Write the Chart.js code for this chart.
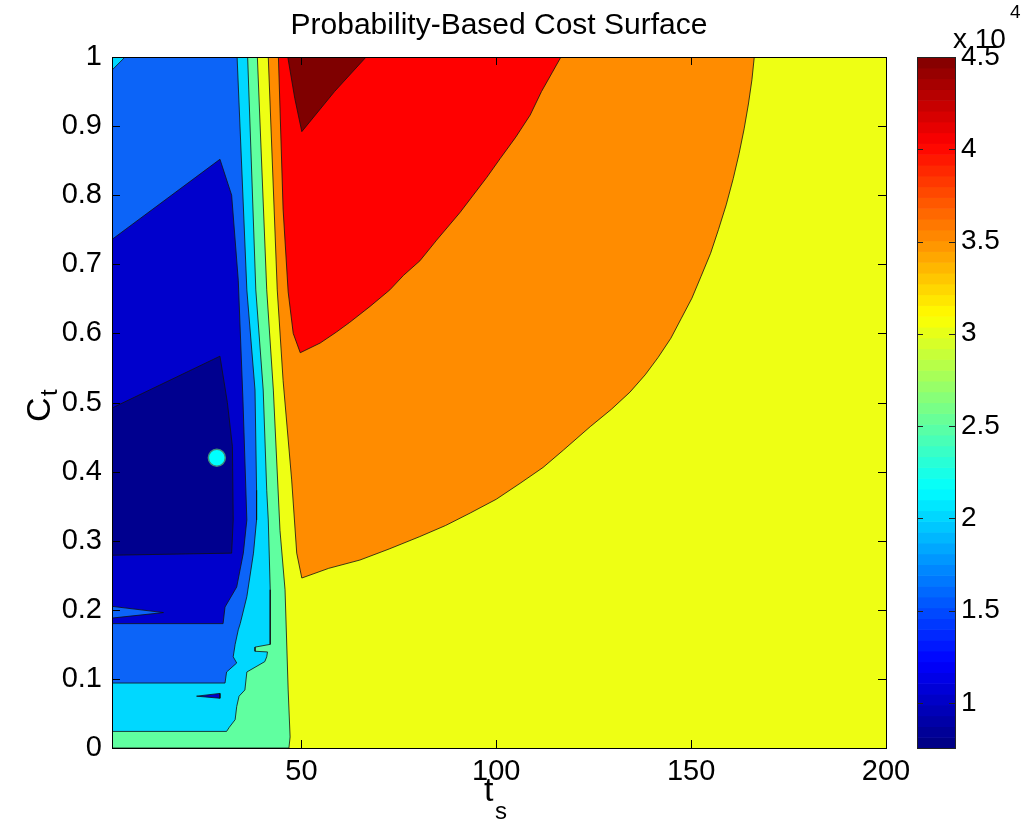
<!DOCTYPE html>
<html>
<head>
<meta charset="utf-8">
<title>Probability-Based Cost Surface</title>
<script src="https://cdn.jsdelivr.net/npm/chart.js@4.4.0/dist/chart.umd.min.js"></script>
<style>
    html, body { margin: 0; padding: 0; background: #fff; }
    #wrap { position: relative; width: 1022px; height: 829px; }
    #main { position: absolute; left: 0; top: 0; }
    #cbar { position: absolute; left: 900px; top: 0; }
</style>
</head>
<body>
<div id="wrap">
    <canvas id="main" width="1022" height="829"></canvas>
    <canvas id="cbar" width="122" height="829"></canvas>
</div>
<script>
// tick values
const xTicks = [50, 100, 150, 200];
const yTicks = [0, 0.1, 0.2, 0.3, 0.4, 0.5, 0.6, 0.7, 0.8, 0.9, 1];
const cbarTicks = [1, 1.5, 2, 2.5, 3, 3.5, 4, 4.5];   // x 10^4
const cbarMin = 0.755;
const cbarMax = 4.5;

// contour regions, [t_s, C_t] outlines
const plotFrame = [[1.4, 0], [200, 0], [200, 1], [1.4, 1], [1.4, 0]];
const orangeRegion = [[41.5, 1], [43.8, 0.663], [45.3, 0.532], [47.5, 0.388], [48.8, 0.282], [50.1, 0.246],
    [57.0, 0.260], [65.0, 0.272], [72.5, 0.288], [80.4, 0.306], [87.0, 0.322], [93.3, 0.340],
    [100.0, 0.360], [106.1, 0.383], [112.0, 0.406], [117.2, 0.431], [124.1, 0.465], [129.5, 0.490],
    [134.3, 0.515], [138.2, 0.540], [141.5, 0.565], [144.8, 0.593], [147.5, 0.622], [150.2, 0.651],
    [152.5, 0.682], [155.0, 0.716], [157.0, 0.750], [159.0, 0.786], [160.8, 0.824], [162.3, 0.860],
    [163.6, 0.896], [164.7, 0.932], [165.6, 0.967], [166.2, 1], [41.5, 1]];
const redRegion = [[44.1, 1], [45.3, 0.78], [46.6, 0.66], [47.9, 0.60], [49.7, 0.572],
    [54.8, 0.586], [59.0, 0.602], [62.4, 0.616], [67.6, 0.639], [72.7, 0.663], [76.2, 0.684],
    [80.4, 0.705], [84.7, 0.735], [90.7, 0.775], [97.6, 0.826], [101.0, 0.853], [105.0, 0.884],
    [108.7, 0.916], [111.6, 0.950], [114.4, 0.978], [116.6, 1], [44.1, 1]];
const darkRedRegion = [[46.5, 1], [48.3, 0.94], [50.1, 0.892], [58.5, 0.95], [66.6, 1], [46.5, 1]];
const aquaRegion = [[1.4, 1], [38.7, 1], [41.1, 0.663], [42.8, 0.518], [44.5, 0.315], [45.8, 0.229],
    [46.6, 0.084], [47.1, 0.016], [46.8, 0], [1.4, 0], [1.4, 1]];
const cyanRegion = [[1.4, 1], [36.2, 1], [38.3, 0.663], [40.2, 0.518], [41.1, 0.373], [41.5, 0.330],
    [42.0, 0.229], [42.0, 0.150], [38.1, 0.146], [38.1, 0.140], [41.3, 0.139], [41.1, 0.132],
    [40.6, 0.125], [36.0, 0.110], [35.5, 0.084], [34.0, 0.075], [33.4, 0.060], [33.0, 0.041],
    [31.5, 0.030], [30.8, 0.024], [1.4, 0.024], [1.4, 1]];
const blueRegion = [[1.4, 1], [33.5, 1], [36.0, 0.663], [38.1, 0.518], [38.5, 0.373], [38.5, 0.330],
    [37.7, 0.282], [36.0, 0.219], [34.3, 0.180], [33.8, 0.171], [33.0, 0.150], [32.5, 0.132],
    [33.4, 0.123], [30.8, 0.110], [30.4, 0.094], [1.4, 0.094], [1.4, 1]];
const cyanCorner = [[1.4, 1], [4.75, 1], [1.4, 0.981], [1.4, 1]];
const darkBlueRegion = [[1.4, 0.736], [29.1, 0.852], [32.1, 0.800], [33.8, 0.677], [35.0, 0.504],
    [36.0, 0.330], [35.1, 0.282], [33.4, 0.233], [30.4, 0.204], [29.9, 0.180], [1.4, 0.180], [1.4, 0.736]];
const blueWedge = [[1.4, 0.205], [14.6, 0.196], [1.4, 0.188], [1.4, 0.205]];
const darkBlueSliver = [[23.1, 0.075], [29.1, 0.079], [29.1, 0.072], [23.1, 0.075]];
const navyRegion = [[1.4, 0.492], [29.1, 0.567], [31.0, 0.50], [32.3, 0.436], [32.5, 0.330],
    [32.1, 0.282], [1.4, 0.279], [1.4, 0.492]];
const optimum = [[28.3, 0.42]];

const FONT = "'Liberation Sans', Arial, sans-serif";

// bottom to top drawing order
const layers = [
    { pts: plotFrame, color: '#EEFF14', line: false },
    { pts: orangeRegion, color: '#FF8C00' },
    { pts: redRegion, color: '#FF0000' },
    { pts: darkRedRegion, color: '#7F0000' },
    { pts: aquaRegion, color: '#60FFA0' },
    { pts: cyanRegion, color: '#00D8FF' },
    { pts: blueRegion, color: '#0C64F8' },
    { pts: cyanCorner, color: '#00D8FF' },
    { pts: darkBlueRegion, color: '#0000CC' },
    { pts: blueWedge, color: '#0C64F8' },
    { pts: darkBlueSliver, color: '#0000CC' },
    { pts: navyRegion, color: '#00008F' }
];

const toXY = arr => arr.map(p => ({ x: p[0], y: p[1] }));

const datasets = layers.map((l, i) => ({
    data: toXY(l.pts),
    areaColor: l.color,
    showLine: true,
    borderColor: l.line === false ? 'rgba(0,0,0,0)' : '#111',
    borderWidth: 0.8,
    pointRadius: 0,
    order: layers.length + 1 - i
}));
datasets.push({
    data: toXY(optimum),
    showLine: false,
    pointRadius: 8.5,
    backgroundColor: '#00FFFF',
    borderColor: '#3C8C7C',
    borderWidth: 1.5,
    order: 0
});

// fill each closed outline before its contour line is stroked
const polyFill = {
    id: 'polyFill',
    beforeDatasetDraw(chart, args) {
        const ds = chart.data.datasets[args.index];
        if (!ds.areaColor) return;
        const ctx = chart.ctx, a = chart.chartArea;
        ctx.save();
        ctx.beginPath();
        ctx.rect(a.left, a.top, a.right - a.left, a.bottom - a.top);
        ctx.clip();
        ctx.beginPath();
        args.meta.data.forEach((p, i) => i ? ctx.lineTo(p.x, p.y) : ctx.moveTo(p.x, p.y));
        ctx.closePath();
        ctx.fillStyle = ds.areaColor;
        ctx.fill();
        ctx.restore();
    }
};

// matlab style box, inward ticks and axis labels with subscripts
const frame = {
    id: 'frame',
    afterDraw(chart) {
        const ctx = chart.ctx, a = chart.chartArea;
        const xs = chart.scales.x, ys = chart.scales.y;
        ctx.save();
        ctx.strokeStyle = '#000';
        ctx.lineWidth = 1;
        ctx.beginPath();
        xTicks.forEach(v => {
            const px = Math.round(xs.getPixelForValue(v)) + 0.5;
            ctx.moveTo(px, a.bottom); ctx.lineTo(px, a.bottom - 8);
            ctx.moveTo(px, a.top); ctx.lineTo(px, a.top + 8);
        });
        yTicks.forEach(v => {
            const py = Math.round(ys.getPixelForValue(v)) + 0.5;
            ctx.moveTo(a.left, py); ctx.lineTo(a.left + 8, py);
            ctx.moveTo(a.right, py); ctx.lineTo(a.right - 8, py);
        });
        ctx.stroke();
        ctx.strokeRect(Math.round(a.left) + 0.5, Math.round(a.top) + 0.5,
            Math.round(a.right - a.left), Math.round(a.bottom - a.top));

        ctx.fillStyle = '#000';
        ctx.textBaseline = 'alphabetic';
        ctx.textAlign = 'left';
        ctx.font = '34px ' + FONT;
        ctx.fillText('t', 484, 801);
        ctx.font = '24px ' + FONT;
        ctx.fillText('s', 495, 819);

        ctx.translate(50, 422);
        ctx.rotate(-Math.PI / 2);
        ctx.font = '34px ' + FONT;
        ctx.fillText('C', 0, 0);
        ctx.font = '24px ' + FONT;
        ctx.fillText('t', 26, 7);
        ctx.restore();
    }
};

new Chart(document.getElementById('main'), {
    type: 'scatter',
    data: { datasets: datasets },
    options: {
        responsive: false,
        animation: false,
        events: [],
        layout: { padding: { left: 0, right: 136, top: 0, bottom: 0 } },
        plugins: {
            legend: { display: false },
            tooltip: { enabled: false },
            title: {
                display: true,
                text: 'Probability-Based Cost Surface',
                color: '#000',
                fullSize: false,
                font: { size: 30, family: FONT, weight: 'normal' },
                padding: { top: 8, bottom: 13 }
            }
        },
        scales: {
            x: {
                type: 'linear', min: 1.4, max: 200,
                afterBuildTicks: s => { s.ticks = xTicks.map(v => ({ value: v })); },
                afterFit: s => { s.height = 81; },
                grid: { display: false, drawTicks: false },
                border: { display: false },
                ticks: { color: '#000', padding: 7, maxRotation: 0, autoSkip: false,
                    font: { size: 29, family: FONT } }
            },
            y: {
                type: 'linear', min: 0, max: 1,
                afterBuildTicks: s => { s.ticks = yTicks.map(v => ({ value: v })); },
                afterFit: s => { s.width = 112; },
                grid: { display: false, drawTicks: false },
                border: { display: false },
                ticks: { color: '#000', padding: 10, autoSkip: false,
                    callback: v => String(v),
                    font: { size: 29, family: FONT } }
            }
        }
    },
    plugins: [polyFill, frame]
});

// colorbar
function jet(t) {
    const c = v => Math.round(255 * Math.max(0, Math.min(1, 1.5 - Math.abs(v))));
    return `rgb(${c(4 * t - 3)},${c(4 * t - 2)},${c(4 * t - 1)})`;
}

const colorBar = {
    id: 'colorBar',
    beforeDatasetsDraw(chart) {
        const ctx = chart.ctx, a = chart.chartArea, ys = chart.scales.y;
        const n = 64, step = (cbarMax - cbarMin) / n;
        ctx.save();
        for (let k = 0; k < n; k++) {
            const yTop = ys.getPixelForValue(cbarMin + (k + 1) * step);
            const yBot = ys.getPixelForValue(cbarMin + k * step);
            ctx.fillStyle = jet((k + 0.5) / n);
            ctx.fillRect(a.left, yTop, a.right - a.left, yBot - yTop + 0.6);
        }
        ctx.restore();
    },
    afterDraw(chart) {
        const ctx = chart.ctx, a = chart.chartArea, ys = chart.scales.y;
        ctx.save();
        ctx.strokeStyle = '#222';
        ctx.lineWidth = 1;
        ctx.beginPath();
        cbarTicks.forEach(v => {
            const py = Math.round(ys.getPixelForValue(v)) + 0.5;
            ctx.moveTo(a.left, py); ctx.lineTo(a.left + 6, py);
            ctx.moveTo(a.right, py); ctx.lineTo(a.right - 6, py);
        });
        ctx.stroke();
        ctx.strokeRect(Math.round(a.left) + 0.5, Math.round(a.top) + 0.5,
            Math.round(a.right - a.left), Math.round(a.bottom - a.top));
        ctx.fillStyle = '#000';
        ctx.textAlign = 'left';
        ctx.textBaseline = 'alphabetic';
        ctx.font = '28px ' + FONT;
        ctx.fillText('x 10', 53, 48);
        ctx.font = '19px ' + FONT;
        ctx.fillText('4', 110, 18);
        ctx.restore();
    }
};

new Chart(document.getElementById('cbar'), {
    type: 'scatter',
    data: { datasets: [] },
    options: {
        responsive: false,
        animation: false,
        events: [],
        layout: { padding: { left: 17, right: 0, top: 57, bottom: 81 } },
        plugins: { legend: { display: false }, tooltip: { enabled: false } },
        scales: {
            x: { display: false, min: 0, max: 1 },
            y: {
                position: 'right', min: cbarMin, max: cbarMax,
                afterBuildTicks: s => { s.ticks = cbarTicks.map(v => ({ value: v })); },
                afterFit: s => { s.width = 67; },
                grid: { display: false, drawTicks: false },
                border: { display: false },
                ticks: { color: '#000', padding: 6, autoSkip: false,
                    callback: v => String(v),
                    font: { size: 28, family: FONT } }
            }
        }
    },
    plugins: [colorBar]
});
</script>
</body>
</html>
